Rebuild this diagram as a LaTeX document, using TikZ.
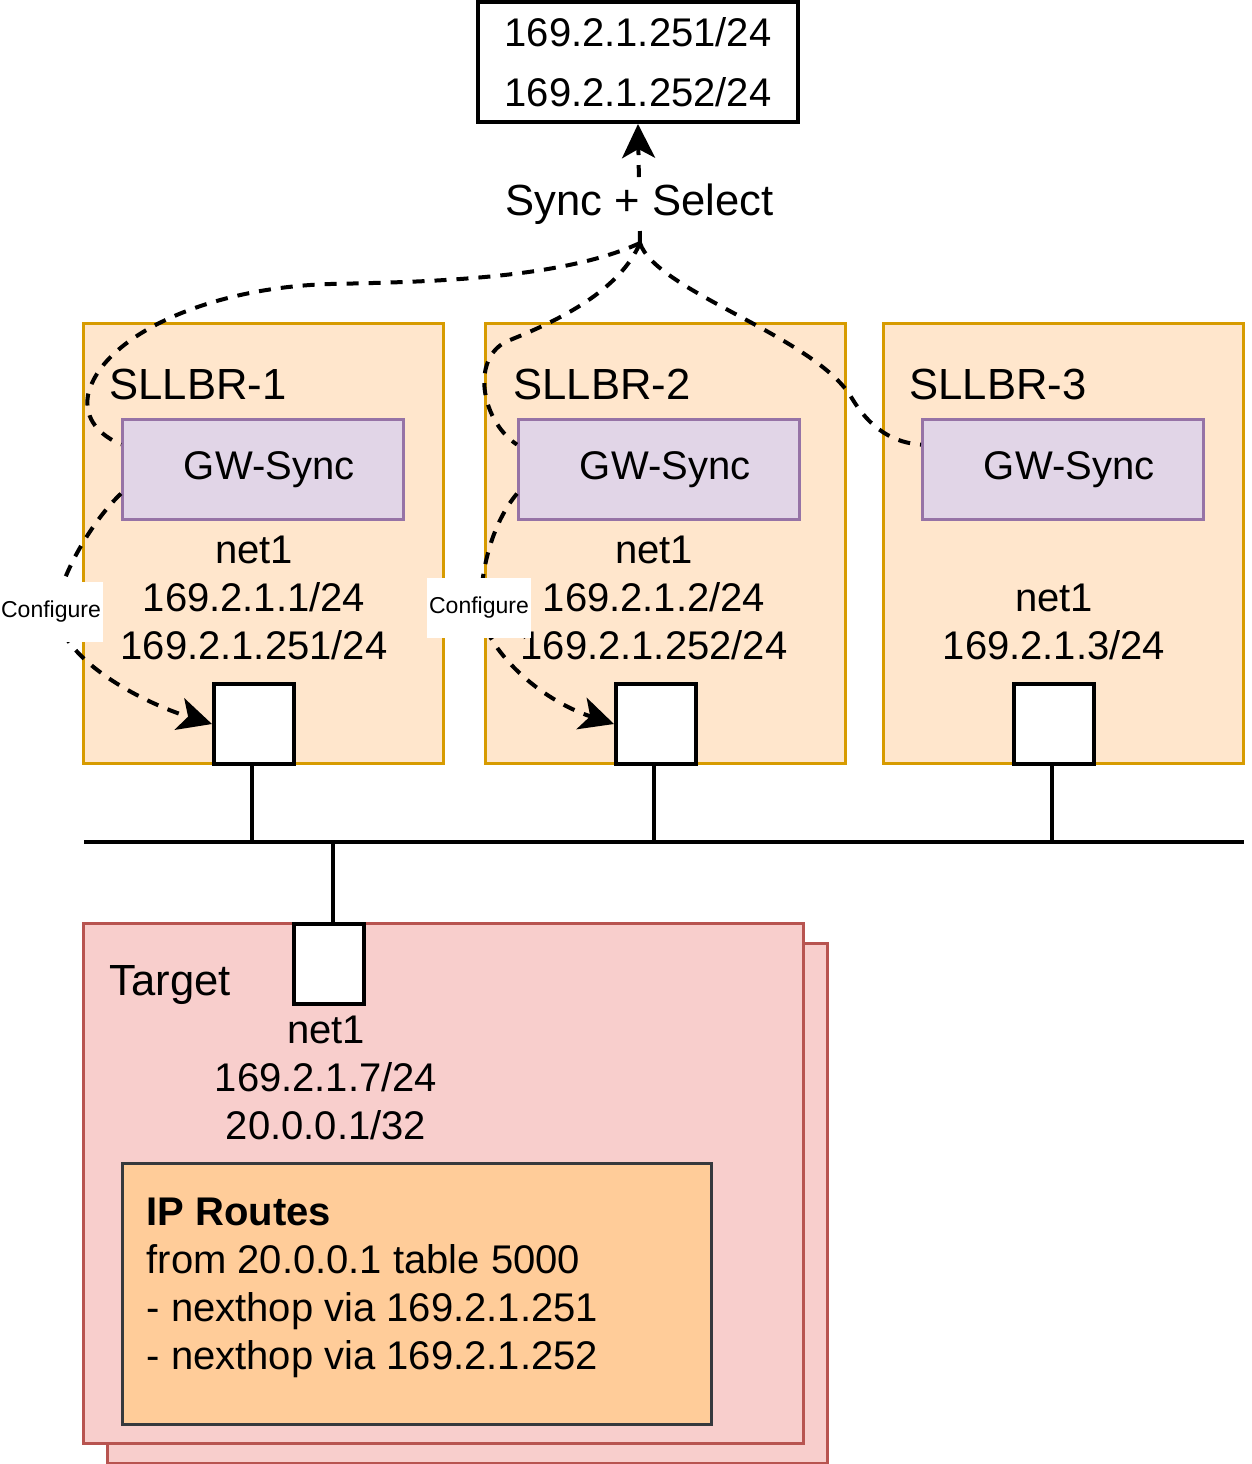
\documentclass[tikz,border=0pt]{standalone}
\usepackage{fontspec}
\setmainfont{Liberation Sans}
\usepackage{tikz}
\usetikzlibrary{arrows.meta, calc}
\definecolor{brfill}{HTML}{FFE6CC}
\definecolor{brline}{HTML}{D79B00}
\definecolor{gwfill}{HTML}{E1D5E7}
\definecolor{gwline}{HTML}{9673A6}
\definecolor{tgfill}{HTML}{F8CECC}
\definecolor{tgline}{HTML}{B85450}
\definecolor{rtfill}{HTML}{FFCC99}
\definecolor{rtline}{HTML}{36393D}

\begin{document}
\begin{tikzpicture}[x=0.5pt, y=-0.5pt, line width=1.6pt,
  font=\fontsize{20}{24}\selectfont,
  big/.style={font=\fontsize{21.8}{26}\selectfont},
  box/.style={draw, rectangle, inner sep=0pt, anchor=north west},
  sllbr/.style={box, draw=brline, fill=brfill, minimum width=180pt, minimum height=220pt},
  gw/.style={box, draw=gwline, fill=gwfill, minimum width=140.5pt, minimum height=50pt},
  port/.style={box, fill=white, line width=2pt, minimum width=40pt, minimum height=40pt},
  arrowtip/.style={-{Stealth[length=17pt, width=16.5pt, inset=4.5pt]}},
  dashline/.style={line width=2pt, dash pattern=on 6pt off 5pt},
  cfg/.style={fill=white, inner xsep=1pt, inner ysep=0pt, minimum height=30pt, font=\fontsize{11.5}{14}\selectfont}]
\useasboundingbox (0,0) rectangle (1252,1464);

% routers
\foreach \i/\x/\g/\n in {1/82/121/26, 2/484/517/28, 3/882/921/26} {
  \node[sllbr] (br\i) at (\x,322) {};
  \node[big, anchor=west, inner sep=0pt] (name\i) at (\x+\n,384) {SLLBR-\i};
  \node[gw] (gw\i) at (\g,418) {\hspace{6pt}GW-Sync};
  \node[port] (port\i) at (\x+130,682) {};
}
\node[align=center, inner sep=0pt] (net1a) at (254,598) {net1\\169.2.1.1/24\\169.2.1.251/24};
\node[align=center, inner sep=0pt] (net1b) at (654,598) {net1\\169.2.1.2/24\\169.2.1.252/24};
\node[align=center, inner sep=0pt] (net1c) at (1054,622) {net1\\169.2.1.3/24};

% shared network
\coordinate (busL) at (84,842);
\coordinate (busR) at (1244,842);
\draw (busL) -- (busR);
\foreach \i in {1,2,3} \draw ([xshift=-1pt]port\i.south) -- ([xshift=-1pt]port\i.south |- busL);

% target host
\node[box, draw=tgline, fill=tgfill, minimum width=360pt, minimum height=260pt] (tgback) at (106,942) {};
\node[box, draw=tgline, fill=tgfill, minimum width=360pt, minimum height=260pt] (target) at (82,922) {};
\node[big, anchor=west, inner sep=0pt] (tgname) at (108,985) {Target};
\node[port, minimum width=35pt] (tport) at (292,922) {};
\draw ([xshift=2pt]tport.north) -- ([xshift=2pt]tport.north |- busL);
\node[align=center, inner sep=0pt] (tgnet) at (326,1078) {net1\\169.2.1.7/24\\20.0.0.1/32};
\node[box, draw=rtline, fill=rtfill, minimum width=294.5pt, minimum height=130.5pt] (routes) at (121,1162) {};
\node[anchor=north west, align=left, inner sep=0pt] (rtext) at (145,1196) {\textbf{IP Routes}\\from 20.0.0.1 table 5000\\- nexthop via 169.2.1.251\\- nexthop via 169.2.1.252};

% virtual addresses
\node[draw, line width=2pt, align=center, minimum width=160pt, minimum height=60pt] (vip) at (638,62) {169.2.1.251/24\\[6pt]169.2.1.252/24};
\coordinate (hub) at (640,243);
\draw[dashline, arrowtip] (hub) -- node[big, fill=white, inner sep=2pt, pos=0.33] (sync) {Sync + Select} (vip.south);

\draw[dashline] (hub) .. controls (560,280) and (420,282) .. (330,284) .. controls (200,288) and (100,340) .. (88,395) .. controls (84,420) and (100,435) .. ([yshift=12.5pt]gw1.west);
\draw[dashline] (hub) .. controls (620,290) and (560,320) .. (510,340) .. controls (470,355) and (480,420) .. ([yshift=12.5pt]gw2.west);
\draw[dashline] (hub) .. controls (655,290) and (810,335) .. (850,395) .. controls (870,430) and (895,443) .. ([yshift=12.5pt]gw3.west);

% configure arrows
\coordinate (cfg1) at (55,612);
\draw[dashline] ([yshift=-12pt]gw1.west) .. controls (95,518) and (62,570) .. (cfg1);
\draw[dashline, arrowtip] (cfg1) .. controls (65,665) and (150,705) .. (port1.west);
\node[cfg] (cfglabel1) at (51,612) {Configure};
\coordinate (cfg2) at (480,608);
\draw[dashline] ([yshift=-12pt]gw2.west) .. controls (495,520) and (482,560) .. (cfg2);
\draw[dashline, arrowtip] (cfg2) .. controls (485,650) and (540,700) .. (port2.west);
\node[cfg] (cfglabel2) at (479,608) {Configure};
\end{tikzpicture}
\end{document}
